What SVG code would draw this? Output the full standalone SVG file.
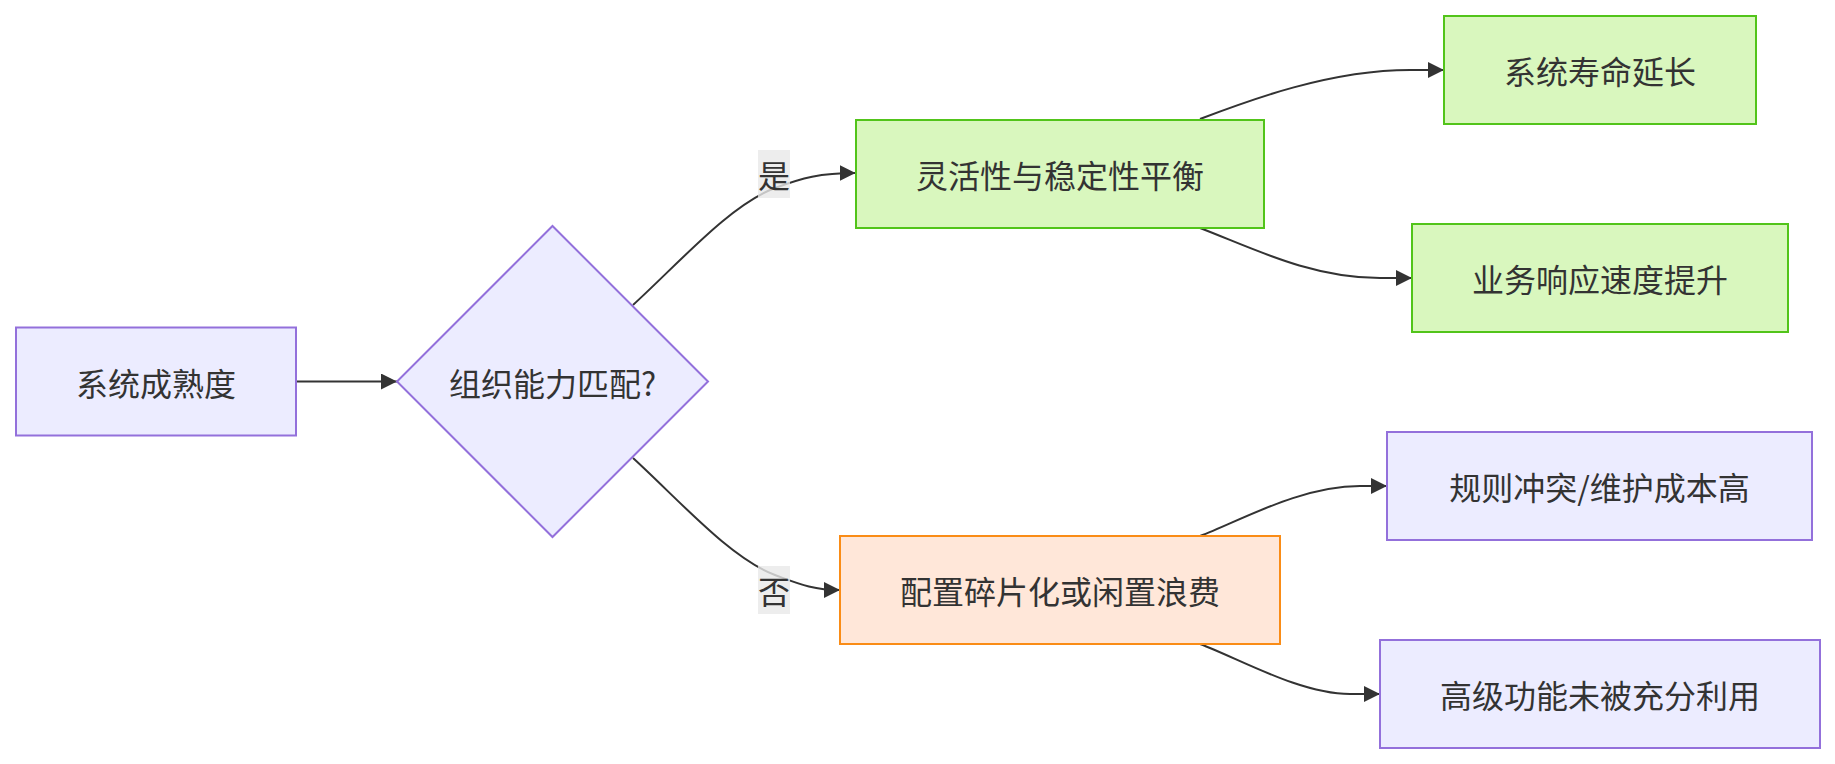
<svg xmlns="http://www.w3.org/2000/svg" width="1835" height="764" viewBox="0 0 1835 764">
<style>
text{font-family:"Noto Sans CJK SC","Liberation Sans",sans-serif;font-size:32px;fill:#333;text-anchor:middle;dominant-baseline:central}
.def{fill:#ECECFF;stroke:#9370DB;stroke-width:2}
.green{fill:#D9F7BE;stroke:#52C41A;stroke-width:2}
.orange{fill:#FFE7D9;stroke:#FA8C16;stroke-width:2}
.edge{fill:none;stroke:#333;stroke-width:2}
.lbl{fill:#e8e8e8;opacity:0.8}
</style>
<defs>
<marker id="arr" markerUnits="userSpaceOnUse" markerWidth="16" markerHeight="16" refX="16" refY="8" orient="auto" viewBox="0 0 16 16">
<path d="M0,0 L16,8 L0,16 z" fill="#333"/>
</marker>
</defs>
<rect width="1835" height="764" fill="#fff"/>
<g id="connectors">
<path class="edge" d="M296,381.5 L397,381.5" marker-end="url(#arr)"/>
<path class="edge" d="M633,305 C680,262 730,205 775,188 C802,178 820,173 855.5,173" marker-end="url(#arr)"/>
<path class="edge" d="M633,458 C680,501 730,558 775,575 C797,583 812,590 840,590" marker-end="url(#arr)"/>
<path class="edge" d="M1200,119 C1250,100 1330,70 1410,70 L1444,70" marker-end="url(#arr)"/>
<path class="edge" d="M1200,228 C1250,247 1310,278 1380,278 L1412,278" marker-end="url(#arr)"/>
<path class="edge" d="M1200,536 C1240,521 1300,486 1360,486 L1387,486" marker-end="url(#arr)"/>
<path class="edge" d="M1200,644 C1240,659 1300,694 1350,694 L1380,694" marker-end="url(#arr)"/>
<g id="label-yes"><rect class="lbl" x="758" y="150" width="32" height="48"/><text x="774" y="174">是</text></g>
<g id="label-no"><rect class="lbl" x="758" y="566" width="32" height="48"/><text x="774" y="590">否</text></g>
</g>
<g id="A"><rect class="def" x="16" y="327.5" width="280" height="108"/><text x="156" y="381.5">系统成熟度</text></g>
<g id="B"><polygon class="def" points="552.5,226 708,381.5 552.5,537 397,381.5"/><text x="552.5" y="381.5">组织能力匹配?</text></g>
<g id="C"><rect class="green" x="856" y="120" width="408" height="108"/><text x="1060" y="174">灵活性与稳定性平衡</text></g>
<g id="D"><rect class="orange" x="840" y="536" width="440" height="108"/><text x="1060" y="590">配置碎片化或闲置浪费</text></g>
<g id="E"><rect class="green" x="1444" y="16" width="312" height="108"/><text x="1600" y="70">系统寿命延长</text></g>
<g id="F"><rect class="green" x="1412" y="224" width="376" height="108"/><text x="1600" y="278">业务响应速度提升</text></g>
<g id="G"><rect class="def" x="1387" y="432" width="425" height="108"/><text x="1599.5" y="486">规则冲突/维护成本高</text></g>
<g id="H"><rect class="def" x="1380" y="640" width="440" height="108"/><text x="1600" y="694">高级功能未被充分利用</text></g>
</svg>
